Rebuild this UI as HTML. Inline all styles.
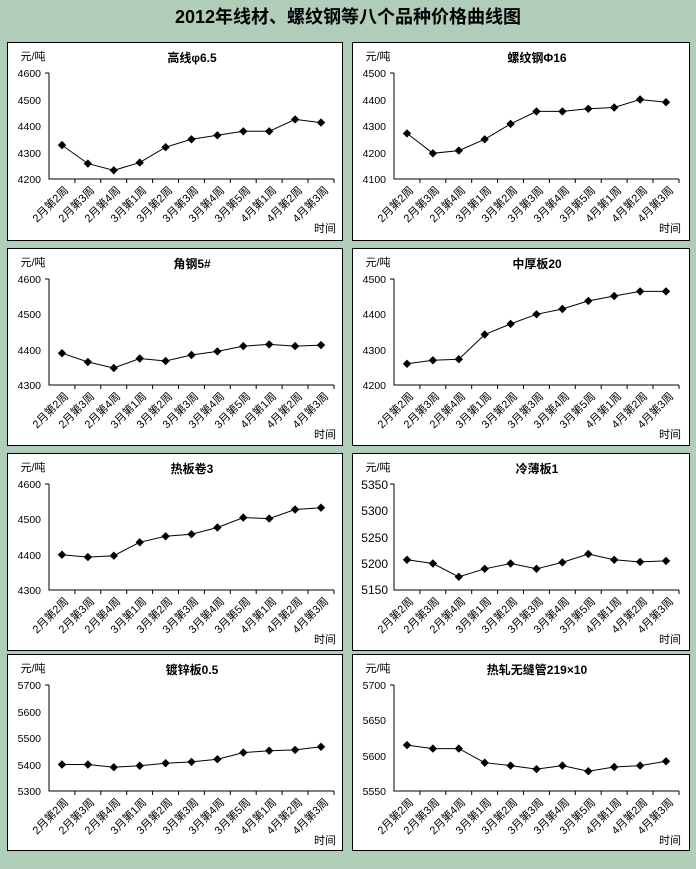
<!DOCTYPE html>
<html><head><meta charset="utf-8"><style>
body{margin:0;background:#b0cdb9;}
svg{display:block;font-family:"Liberation Sans","Noto Sans CJK SC",sans-serif;}
.xl{font-size:11px;text-anchor:end;}
.yl{font-size:10.5px;text-anchor:end;}
.t{font-size:12px;font-weight:bold;text-anchor:middle;}
.u{font-size:11px;}
</style></head><body>
<svg width="696" height="869" viewBox="0 0 696 869">
<defs>
<marker id="d" markerWidth="10" markerHeight="10" refX="5" refY="5" markerUnits="userSpaceOnUse"><path d="M5,0.8L9.2,5 5,9.2 0.8,5Z" fill="#000"/></marker>
<g id="ax" fill="none" stroke="#000" stroke-width="1">
<path d="M42,31V137H327"/>
<path d="M67.9,137v4M93.8,137v4M119.7,137v4M145.6,137v4M171.5,137v4M197.4,137v4M223.3,137v4M249.2,137v4M275.1,137v4M301,137v4M327,137v4M42,31h-4"/>
</g>
<g id="xl" class="xl">
<text transform="translate(62,149) rotate(-45)">2月第2周</text>
<text transform="translate(88,149) rotate(-45)">2月第3周</text>
<text transform="translate(114,149) rotate(-45)">2月第4周</text>
<text transform="translate(140,149) rotate(-45)">3月第1周</text>
<text transform="translate(166,149) rotate(-45)">3月第2周</text>
<text transform="translate(192,149) rotate(-45)">3月第3周</text>
<text transform="translate(218,149) rotate(-45)">3月第4周</text>
<text transform="translate(244,149) rotate(-45)">3月第5周</text>
<text transform="translate(270,149) rotate(-45)">4月第1周</text>
<text transform="translate(296,149) rotate(-45)">4月第2周</text>
<text transform="translate(322,149) rotate(-45)">4月第3周</text>
<text class="u" x="318" y="190" style="text-anchor:middle">时间</text>
<text class="u" x="26" y="18" style="text-anchor:middle">元/吨</text>
</g>
</defs>
<rect width="696" height="869" fill="#b0cdb9"/>
<text x="348" y="23" style="font-size:18px;font-weight:bold;text-anchor:middle">2012年线材、螺纹钢等八个品种价格曲线图</text>

<!-- P1 -->
<g transform="translate(7,42)">
<rect x="0.5" y="0.5" width="335" height="198" fill="#fff" stroke="#000"/>
<use href="#ax"/><use href="#xl"/>
<text class="t" x="185" y="20">高线φ6.5</text>
<g class="yl"><text x="34" y="35">4600</text><text x="34" y="62">4500</text><text x="34" y="88">4400</text><text x="34" y="115">4300</text><text x="34" y="141">4200</text></g>
<polyline fill="none" stroke="#000" marker-start="url(#d)" marker-mid="url(#d)" marker-end="url(#d)" points="55,103.1 80.9,121.6 106.8,128.3 132.7,120.6 158.6,105.2 184.5,97.3 210.4,93.3 236.3,89.3 262.2,89.3 288.1,77.4 314,80.6"/>
</g>
<!-- P2 -->
<g transform="translate(352,42)">
<rect x="0.5" y="0.5" width="337" height="198" fill="#fff" stroke="#000"/>
<use href="#ax"/><use href="#xl"/>
<text class="t" x="185" y="20">螺纹钢Φ16</text>
<g class="yl"><text x="34" y="35">4500</text><text x="34" y="62">4400</text><text x="34" y="88">4300</text><text x="34" y="115">4200</text><text x="34" y="141">4100</text></g>
<polyline fill="none" stroke="#000" marker-start="url(#d)" marker-mid="url(#d)" marker-end="url(#d)" points="55,91.4 80.9,111.3 106.8,108.6 132.7,97.3 158.6,81.9 184.5,69.4 210.4,69.4 236.3,66.8 262.2,65.5 288.1,57.5 314,60.2"/>
</g>
<!-- P3 -->
<g transform="translate(7,248)">
<rect x="0.5" y="0.5" width="335" height="197" fill="#fff" stroke="#000"/>
<use href="#ax"/><use href="#xl"/>
<text class="t" x="185" y="20">角钢5#</text>
<g class="yl"><text x="34" y="35">4600</text><text x="34" y="70">4500</text><text x="34" y="106">4400</text><text x="34" y="141">4300</text></g>
<polyline fill="none" stroke="#000" marker-start="url(#d)" marker-mid="url(#d)" marker-end="url(#d)" points="55,105.2 80.9,114 106.8,120 132.7,110.5 158.6,113 184.5,107 210.4,103.4 236.3,98.1 262.2,96.4 288.1,98.1 314,97.1"/>
</g>
<!-- P4 -->
<g transform="translate(352,248)">
<rect x="0.5" y="0.5" width="337" height="197" fill="#fff" stroke="#000"/>
<use href="#ax"/><use href="#xl"/>
<text class="t" x="185" y="20">中厚板20</text>
<g class="yl"><text x="34" y="35">4500</text><text x="34" y="70">4400</text><text x="34" y="106">4300</text><text x="34" y="141">4200</text></g>
<polyline fill="none" stroke="#000" marker-start="url(#d)" marker-mid="url(#d)" marker-end="url(#d)" points="55,115.8 80.9,112.3 106.8,111.2 132.7,86.5 158.6,75.9 184.5,66.3 210.4,61 236.3,52.9 262.2,48 288.1,43.4 314,43.4"/>
</g>
<!-- P5 -->
<g transform="translate(7,453)">
<rect x="0.5" y="0.5" width="335" height="197" fill="#fff" stroke="#000"/>
<use href="#ax"/><use href="#xl"/>
<text class="t" x="185" y="20">热板卷3</text>
<g class="yl"><text x="34" y="35">4600</text><text x="34" y="70">4500</text><text x="34" y="106">4400</text><text x="34" y="141">4300</text></g>
<polyline fill="none" stroke="#000" marker-start="url(#d)" marker-mid="url(#d)" marker-end="url(#d)" points="55,101.7 80.9,104.1 106.8,102.7 132.7,89.3 158.6,83.3 184.5,81.2 210.4,74.5 236.3,64.6 262.2,65.6 288.1,56.5 314,54.7"/>
</g>
<!-- P6 -->
<g transform="translate(352,453)">
<rect x="0.5" y="0.5" width="337" height="197" fill="#fff" stroke="#000"/>
<use href="#ax"/><use href="#xl"/>
<text class="t" x="185" y="20">冷薄板1</text>
<g class="yl" style="font-size:12px"><text x="36" y="36">5350</text><text x="36" y="62">5300</text><text x="36" y="89">5250</text><text x="36" y="115">5200</text><text x="36" y="141">5150</text></g>
<polyline fill="none" stroke="#000" marker-start="url(#d)" marker-mid="url(#d)" marker-end="url(#d)" points="55,106.8 80.9,110.5 106.8,123.8 132.7,115.8 158.6,110.5 184.5,115.8 210.4,109.4 236.3,101 262.2,106.8 288.1,108.9 314,107.9"/>
</g>
<!-- P7 -->
<g transform="translate(7,654)">
<rect x="0.5" y="0.5" width="335" height="196" fill="#fff" stroke="#000"/>
<use href="#ax"/><use href="#xl"/>
<text class="t" x="185" y="20">镀锌板0.5</text>
<g class="yl"><text x="34" y="35">5700</text><text x="34" y="62">5600</text><text x="34" y="88">5500</text><text x="34" y="115">5400</text><text x="34" y="141">5300</text></g>
<polyline fill="none" stroke="#000" marker-start="url(#d)" marker-mid="url(#d)" marker-end="url(#d)" points="55,110.5 80.9,110.5 106.8,113.2 132.7,111.8 158.6,109.2 184.5,107.9 210.4,105.2 236.3,98.6 262.2,96.7 288.1,95.9 314,92.8"/>
</g>
<!-- P8 -->
<g transform="translate(352,654)">
<rect x="0.5" y="0.5" width="337" height="196" fill="#fff" stroke="#000"/>
<use href="#ax"/><use href="#xl"/>
<text class="t" x="185" y="20">热轧无缝管219×10</text>
<g class="yl"><text x="34" y="35">5700</text><text x="34" y="70">5650</text><text x="34" y="106">5600</text><text x="34" y="141">5550</text></g>
<polyline fill="none" stroke="#000" marker-start="url(#d)" marker-mid="url(#d)" marker-end="url(#d)" points="55,91.1 80.9,94.6 106.8,94.6 132.7,108.7 158.6,111.6 184.5,115.1 210.4,111.6 236.3,117.2 262.2,113 288.1,111.6 314,107.3"/>
</g>
</svg>
</body></html>
